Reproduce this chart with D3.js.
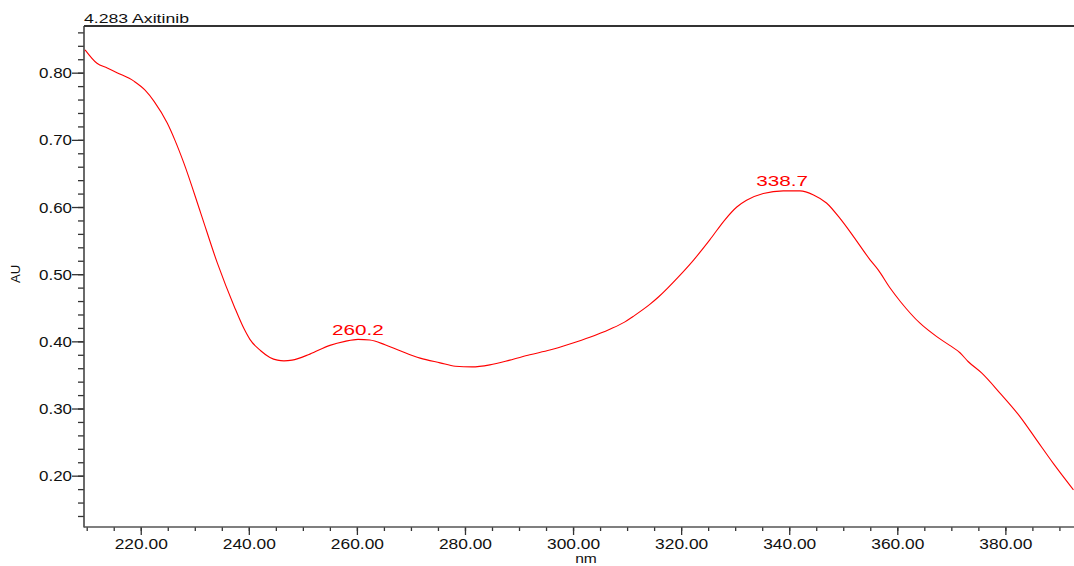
<!DOCTYPE html>
<html>
<head>
<meta charset="utf-8">
<script src="https://cdn.jsdelivr.net/npm/d3@7"></script>
<style>
  html, body { margin: 0; padding: 0; background: #fff; }
  svg { display: block; font-family: "Liberation Sans", Arial, sans-serif; }
</style>
</head>
<body>
<svg id="chart" width="1074" height="566"></svg>
<script>
// ---- data ----
const title = "4.283 Axitinib";
const xLabel = "nm";
const yLabel = "AU";
const wavelength = [209.7, 211.9, 213.8, 215.6, 218.8, 220.8, 222.5, 224.9, 226.3, 228.0,
  231.1, 234.2, 237.3, 239.1, 240.2, 242.2, 243.9, 245.3, 246.5, 248.0,
  251.3, 255.0, 257.8, 260.2, 262.4, 265.2, 268.0, 271.7, 275.4, 278.2,
  281.3, 284.6, 288.3, 292.0, 295.7, 299.4, 303.1, 306.8, 309.6, 311.1,
  314.2, 315.8, 319.5, 322.3, 325.3, 328.1, 330.3, 332.1, 335.2, 338.9,
  342.0, 344.5, 346.9, 349.4, 351.9, 355.0, 356.5, 358.7, 360.6, 364.2,
  367.3, 369.7, 371.6, 373.1, 375.6, 379.0, 382.7, 385.8, 388.9, 392.6];
const absorbance = [0.834, 0.814, 0.807, 0.800, 0.787, 0.774, 0.757, 0.725, 0.700, 0.665,
  0.591, 0.516, 0.452, 0.419, 0.403, 0.386, 0.376, 0.372, 0.371, 0.372,
  0.381, 0.394, 0.400, 0.403, 0.402, 0.395, 0.386, 0.375, 0.368, 0.363,
  0.362, 0.365, 0.372, 0.380, 0.387, 0.396, 0.406, 0.418, 0.429, 0.437,
  0.455, 0.466, 0.496, 0.521, 0.551, 0.581, 0.600, 0.610, 0.620, 0.624,
  0.624, 0.618, 0.606, 0.583, 0.556, 0.521, 0.506, 0.479, 0.459, 0.427,
  0.407, 0.394, 0.383, 0.370, 0.353, 0.323, 0.288, 0.253, 0.218, 0.179];
const peakWavelength = [260.2, 338.7];
const peakAbsorbance = [0.403, 0.624];
const peakLabels = ["260.2", "338.7"];
const xTicks = [220, 240, 260, 280, 300, 320, 340, 360, 380];
const xMinorTicks = d3.range(210, 391, 5);
const yTicks = [0.20, 0.30, 0.40, 0.50, 0.60, 0.70, 0.80];
const yMinorTicks = d3.range(14, 87, 2).map(v => v / 100);

(function () {
// ---- layout ----
const svg = d3.select("#chart");
const pLeft = 84, pRight = 1074, pTop = 26, pBottom = 527;
const x = d3.scaleLinear().domain([209.5, 392.7]).range([pLeft, pRight]);
const y = d3.scaleLinear().domain([0.1236, 0.8695]).range([pBottom, pTop]);
const axisColor = "#333";

function stretch(sel, k) {
  sel.each(function () {
    const w = this.getComputedTextLength();
    d3.select(this).attr("textLength", w * k).attr("lengthAdjust", "spacingAndGlyphs");
  });
}

// minor ticks
svg.append("g").attr("transform", `translate(${pLeft},0)`)
  .call(d3.axisLeft(y).tickValues(yMinorTicks).tickSize(6).tickFormat(""))
  .call(g => g.select(".domain").remove())
  .call(g => g.selectAll("line").attr("stroke", axisColor).attr("stroke-width", 1.3));
svg.append("g").attr("transform", `translate(0,${pBottom})`)
  .call(d3.axisBottom(x).tickValues(xMinorTicks).tickSize(4).tickFormat(""))
  .call(g => g.select(".domain").remove())
  .call(g => g.selectAll("line").attr("stroke", axisColor).attr("stroke-width", 1.3));

// major y axis
const gy = svg.append("g").attr("transform", `translate(${pLeft},0)`)
  .call(d3.axisLeft(y).tickValues(yTicks).tickSize(12).tickPadding(0).tickFormat(d3.format(".2f")));
gy.select(".domain").remove();
gy.selectAll("line").attr("stroke", axisColor).attr("stroke-width", 1.3);
gy.selectAll("text").attr("fill", "#111").attr("font-size", 14)
  .attr("font-family", "Liberation Sans, Arial, sans-serif").attr("dy", "0.36em");
stretch(gy.selectAll("text"), 1.21);

// major x axis
const gx = svg.append("g").attr("transform", `translate(0,${pBottom})`)
  .call(d3.axisBottom(x).tickValues(xTicks).tickSize(8).tickPadding(4).tickFormat(d3.format(".2f")));
gx.select(".domain").remove();
gx.selectAll("line").attr("stroke", axisColor).attr("stroke-width", 1.3);
gx.selectAll("text").attr("fill", "#111").attr("font-size", 14)
  .attr("font-family", "Liberation Sans, Arial, sans-serif");
stretch(gx.selectAll("text"), 1.24);

// axis lines
svg.append("line").attr("x1", pLeft).attr("x2", pLeft).attr("y1", pTop).attr("y2", pBottom + 0.5)
  .attr("stroke", "#444").attr("stroke-width", 1.6);
svg.append("line").attr("x1", pLeft).attr("x2", pRight).attr("y1", pBottom).attr("y2", pBottom)
  .attr("stroke", "#555").attr("stroke-width", 1.6);
svg.append("line").attr("x1", pLeft).attr("x2", pRight).attr("y1", pTop).attr("y2", pTop)
  .attr("stroke", "#333").attr("stroke-width", 1.8);

// title
const t = svg.append("text").attr("x", pLeft).attr("y", 23).attr("font-size", 12)
  .attr("fill", "#111").text(title);
stretch(t, 1.47);

// axis labels
svg.append("text").attr("transform", `translate(20,274) rotate(-90)`)
  .attr("text-anchor", "middle").attr("font-size", 13).attr("fill", "#111").text(yLabel);
const xl = svg.append("text").attr("x", 586).attr("y", 562.5).attr("text-anchor", "middle")
  .attr("font-size", 13).attr("fill", "#111").text(xLabel);
stretch(xl, 1.2);

// curve
const pts = wavelength.map((w, i) => [w, absorbance[i]]);
svg.append("path").datum(pts)
  .attr("fill", "none").attr("stroke", "#ff0000").attr("stroke-width", 1.1)
  .attr("d", d3.line().x(d => x(d[0])).y(d => y(d[1])).curve(d3.curveMonotoneX));

// peak labels
peakLabels.forEach((lab, i) => {
  const tx = svg.append("text").attr("x", x(peakWavelength[i])).attr("y", y(peakAbsorbance[i]) - 4.5)
    .attr("text-anchor", "middle").attr("font-size", 15).attr("fill", "#ff0000").text(lab);
  stretch(tx, 1.38);
});
})();
</script>
</body>
</html>
